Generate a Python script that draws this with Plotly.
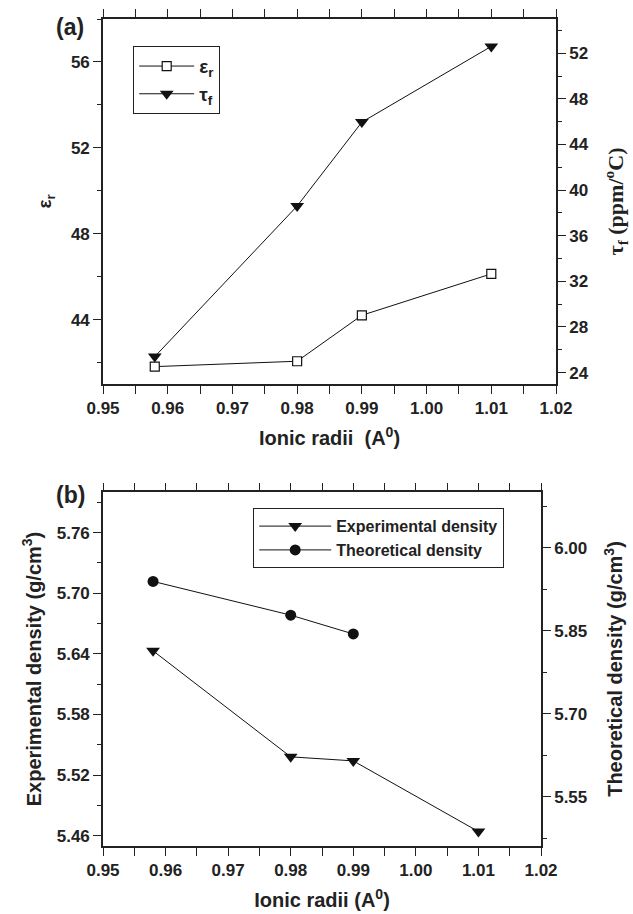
import plotly.graph_objects as go

# ---- data ----
radii = [0.958, 0.98, 0.99, 1.01]
eps_r = [41.81, 42.06, 44.2, 46.13]
tau_f = [25.4, 38.6, 45.96, 52.6]

radii_theo = [0.958, 0.98, 0.99]
exp_density = [5.643, 5.538, 5.534, 5.464]
theo_density = [5.939, 5.878, 5.844]

x_ticks = [0.95, 0.96, 0.97, 0.98, 0.99, 1.00, 1.01, 1.02]

FONT = "Liberation Sans, Arial, sans-serif"
SERIF = "Liberation Serif, Times New Roman, serif"
INK = "#222222"

fig = go.Figure()

line_style = dict(color="#111111", width=1)

fig.add_trace(go.Scatter(
    x=radii, y=eps_r, xaxis="x", yaxis="y", mode="lines+markers",
    name="ε<sub>r</sub>", legend="legend",
    line=line_style,
    marker=dict(symbol="square", size=9, color="white", line=dict(color="#111111", width=1.2)),
))
fig.add_trace(go.Scatter(
    x=radii, y=tau_f, xaxis="x", yaxis="y2", mode="lines+markers",
    name="τ<sub>f</sub>", legend="legend",
    line=line_style,
    marker=dict(symbol="triangle-down", size=12, color="#111111"),
))
fig.add_trace(go.Scatter(
    x=radii, y=exp_density, xaxis="x2", yaxis="y3", mode="lines+markers",
    name="Experimental density", legend="legend2",
    line=line_style,
    marker=dict(symbol="triangle-down", size=12, color="#111111"),
))
fig.add_trace(go.Scatter(
    x=radii_theo, y=theo_density, xaxis="x2", yaxis="y4", mode="lines+markers",
    name="Theoretical density", legend="legend2",
    line=line_style,
    marker=dict(symbol="circle", size=11, color="#111111"),
))

tickfont = dict(family=FONT, size=17, color=INK, weight="bold")
titlefont = dict(family=FONT, size=20, color=INK, weight="bold")

common_axis = dict(
    showgrid=False, zeroline=False, showline=True, linewidth=1.6, linecolor=INK,
    ticks="outside", ticklen=8, tickwidth=1.4, tickcolor=INK, tickfont=tickfont,
    automargin=False,
)

def xaxis(domain, anchor, title):
    return dict(
        domain=domain, anchor=anchor, range=[0.95, 1.02],
        tickvals=x_ticks, tickformat=".2f",
        minor=dict(ticks="outside", ticklen=4, tickwidth=1.2, tickcolor=INK, dtick=0.005, tick0=0.95),
        title=dict(text=title, font=titlefont, standoff=14),
        mirror="allticks",
        **common_axis,
    )

top_dom_x = [103 / 633, 556 / 633]
top_dom_y = [1 - 384 / 914, 1 - 19 / 914]
bot_dom_x = [103 / 633, 541 / 633]
bot_dom_y = [1 - 845.7 / 914, 1 - 492.3 / 914]

fig.update_layout(
    width=633, height=914,
    margin=dict(l=0, r=0, t=0, b=0),
    paper_bgcolor="white", plot_bgcolor="white",
    font=dict(family=FONT, color=INK),
    xaxis=xaxis(top_dom_x, "y", "Ionic radii  (A<sup>0</sup>)"),
    yaxis=dict(
        domain=top_dom_y, anchor="x", range=[41, 58], tick0=0, dtick=4,
        minor=dict(ticks="outside", ticklen=4, tickwidth=1.2, tickcolor=INK, dtick=2, tick0=0),
        title=dict(text="ε<sub>r</sub>", font=dict(family=FONT, size=19, color=INK, weight="bold"), standoff=14),
        **common_axis,
    ),
    yaxis2=dict(
        overlaying="y", side="right", anchor="x", range=[23, 55], tick0=0, dtick=4,
        minor=dict(ticks="outside", ticklen=4, tickwidth=1.2, tickcolor=INK, dtick=2, tick0=0),
        title=dict(text="τ<sub>f</sub> (ppm/<sup>o</sup>C)", font=dict(family=SERIF, size=22, color=INK, weight="bold"), standoff=20),
        **common_axis,
    ),
    xaxis2=xaxis(bot_dom_x, "y3", "Ionic radii (A<sup>0</sup>)"),
    yaxis3=dict(
        domain=bot_dom_y, anchor="x2", range=[5.45, 5.80], tick0=5.46, dtick=0.06, tickformat=".2f",
        minor=dict(ticks="outside", ticklen=4, tickwidth=1.2, tickcolor=INK, dtick=0.03, tick0=5.46),
        title=dict(text="Experimental density (g/cm<sup>3</sup>)", font=titlefont, standoff=10),
        **common_axis,
    ),
    yaxis4=dict(
        overlaying="y3", side="right", anchor="x2", range=[5.4614, 6.10], tick0=5.55, dtick=0.15, tickformat=".2f",
        minor=dict(ticks="outside", ticklen=4, tickwidth=1.2, tickcolor=INK, dtick=0.075, tick0=5.475),
        title=dict(text="Theoretical density (g/cm<sup>3</sup>)", font=titlefont, standoff=22),
        **common_axis,
    ),
    legend=dict(
        x=133 / 633, y=1 - 46 / 914, xanchor="left", yanchor="top",
        bordercolor=INK, borderwidth=1.2, bgcolor="white",
        font=dict(family=FONT, size=19, color=INK, weight="bold"),
        itemwidth=55,
    ),
    legend2=dict(
        x=253 / 633, y=1 - 508 / 914, xanchor="left", yanchor="top",
        bordercolor=INK, borderwidth=1.2, bgcolor="white",
        font=dict(family=FONT, size=16, color=INK, weight="bold"),
        itemwidth=72,
    ),
    annotations=[
        dict(text="(a)", x=70 / 633, y=1 - 27 / 914, xref="paper", yref="paper",
             xanchor="center", yanchor="middle",
             showarrow=False, font=dict(family=FONT, size=23, color=INK, weight="bold")),
        dict(text="(b)", x=70 / 633, y=1 - 495 / 914, xref="paper", yref="paper",
             xanchor="center", yanchor="middle",
             showarrow=False, font=dict(family=FONT, size=23, color=INK, weight="bold")),
    ],
)

fig.write_html(
    "out.html",
    config={"displayModeBar": False},
    post_script="document.body.style.margin='0';document.body.style.overflow='hidden';",
)
